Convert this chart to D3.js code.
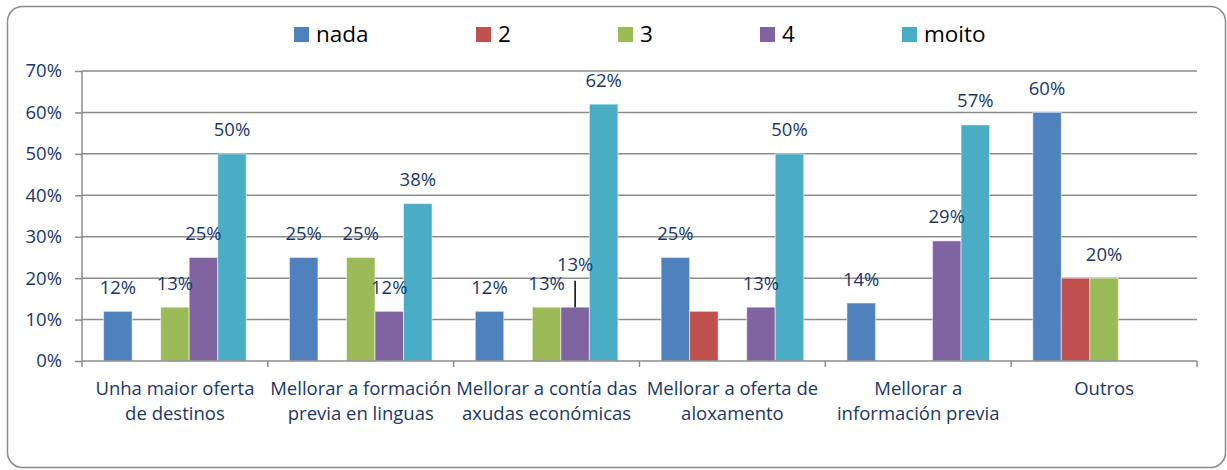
<!DOCTYPE html>
<html>
<head>
<meta charset="utf-8">
<script src="https://cdn.jsdelivr.net/npm/d3@7"></script>
<style>
  html, body { margin: 0; padding: 0; background: #fff; }
  svg { display: block; }
  text { font-family: "Open Sans", Lato, sans-serif; }
</style>
</head>
<body>
<svg id="chart" width="1227" height="470"></svg>
<script>
// Categories (two-line labels) and series
const categories = [
  ["Unha maior oferta", "de destinos"],
  ["Mellorar a formación", "previa en linguas"],
  ["Mellorar a contía das", "axudas económicas"],
  ["Mellorar a oferta de", "aloxamento"],
  ["Mellorar a", "información previa"],
  ["Outros"]
];
const seriesNames = ["nada", "2", "3", "4", "moito"];

// Percentages per series, one value per category (null = no bar)
const nada  = [12, 25, 12, 25, 14, 60];
const dous  = [null, null, null, 12, null, 20];
const tres  = [13, 25, 13, null, null, 20];
const catro = [25, 12, 13, 13, 29, null];
const moito = [50, 38, 62, 50, 57, null];

// Which series carry value labels
const seriesLabelled = [true, false, true, true, true];

const yTicks = [0, 10, 20, 30, 40, 50, 60, 70];

const colors = ["#4F81BD", "#C0504D", "#9BBB59", "#8064A2", "#4BACC6"];
const seriesValues = [nada, dous, tres, catro, moito];

const svg = d3.select("#chart");
const plot = { left: 82, right: 1197, top: 71, bottom: 361 };
const textColor = "#1B3768";
const gridColor = "#8C8C8C";
const fontSize = "18.5px";

// Outer rounded frame
svg.append("rect")
  .attr("x", 7.5).attr("y", 6.5)
  .attr("width", 1218).attr("height", 461)
  .attr("rx", 15).attr("ry", 15)
  .attr("fill", "#fff")
  .attr("stroke", "#8A8A8A")
  .attr("stroke-width", 1.5);

const x0 = d3.scaleBand()
  .domain(d3.range(categories.length))
  .range([plot.left, plot.right])
  .paddingInner(0).paddingOuter(0);

const groupPad = 21.6;
const x1 = d3.scaleBand()
  .domain(d3.range(seriesNames.length))
  .range([groupPad, x0.bandwidth() - groupPad])
  .padding(0);

const y = d3.scaleLinear().domain([0, 70]).range([plot.bottom, plot.top]);

// Horizontal gridlines
svg.append("g")
  .selectAll("line")
  .data(yTicks.filter(t => t > 0))
  .join("line")
  .attr("x1", plot.left).attr("x2", plot.right)
  .attr("y1", d => y(d)).attr("y2", d => y(d))
  .attr("stroke", gridColor).attr("stroke-width", 1.5);

// Y axis
const yAxis = d3.axisLeft(y)
  .tickValues(yTicks)
  .tickFormat(d => d + "%")
  .tickSize(7)
  .tickPadding(13);
const gy = svg.append("g")
  .attr("transform", `translate(${plot.left},0)`)
  .call(yAxis);
gy.select(".domain").attr("stroke", gridColor).attr("stroke-width", 1.5)
  .attr("d", `M0,${plot.top}V${plot.bottom}`);
gy.selectAll(".tick line").attr("stroke", gridColor).attr("stroke-width", 1.5);
gy.selectAll(".tick text")
  .attr("fill", textColor)
  .style("font-size", fontSize)
  .style("font-family", "'Open Sans', Lato, sans-serif");

// Bars
const barData = [];
seriesValues.forEach((vals, s) => {
  vals.forEach((v, c) => {
    if (v !== null) barData.push({ s, c, v });
  });
});

svg.append("g")
  .selectAll("rect")
  .data(barData)
  .join("rect")
  .attr("x", d => x0(d.c) + x1(d.s))
  .attr("width", x1.bandwidth())
  .attr("y", d => y(d.v))
  .attr("height", d => y(0) - y(d.v))
  .attr("fill", d => colors[d.s])
  .attr("stroke", "#fff")
  .attr("stroke-opacity", 0.55)
  .attr("stroke-width", 1);

// X axis (category separators)
const gx = svg.append("g").attr("transform", `translate(0,${plot.bottom})`);
gx.append("line")
  .attr("x1", plot.left).attr("x2", plot.right)
  .attr("y1", 0).attr("y2", 0)
  .attr("stroke", gridColor).attr("stroke-width", 1.5);
gx.selectAll("line.sep")
  .data(d3.range(categories.length + 1))
  .join("line")
  .attr("class", "sep")
  .attr("x1", i => i < categories.length ? x0(i) : plot.right)
  .attr("x2", i => i < categories.length ? x0(i) : plot.right)
  .attr("y1", 0).attr("y2", 6)
  .attr("stroke", gridColor).attr("stroke-width", 1.5);

// Category labels
const catLabels = svg.append("g")
  .selectAll("text")
  .data(categories)
  .join("text")
  .attr("text-anchor", "middle")
  .attr("fill", textColor)
  .style("font-size", fontSize)
  .attr("transform", (d, i) => `translate(${x0(i) + x0.bandwidth() / 2},395)`);
catLabels.selectAll("tspan")
  .data(d => d)
  .join("tspan")
  .attr("x", 0)
  .attr("dy", (d, i) => i === 0 ? 0 : 24.5)
  .text(d => d);

// Value labels (one raised with a leader line where labels would collide)
const labelLift = { s: 3, c: 2, dy: 19 };
const labelData = barData.filter(d => seriesLabelled[d.s]);
const labelG = svg.append("g");
labelData.forEach(d => {
  const cx = x0(d.c) + x1(d.s) + x1.bandwidth() / 2;
  const lifted = d.s === labelLift.s && d.c === labelLift.c;
  const base = y(d.v) - 17.5 - (lifted ? labelLift.dy : 0);
  if (lifted) {
    labelG.append("line")
      .attr("x1", cx).attr("x2", cx)
      .attr("y1", base + 10).attr("y2", y(d.v))
      .attr("stroke", "#000").attr("stroke-width", 1.5);
  }
  labelG.append("text")
    .attr("x", cx).attr("y", base)
    .attr("text-anchor", "middle")
    .attr("fill", textColor)
    .style("font-size", fontSize)
    .text(d.v + "%");
});

// Legend
const legendX = [294, 476, 618, 760, 902];
const legend = svg.append("g")
  .selectAll("g")
  .data(seriesNames)
  .join("g")
  .attr("transform", (d, i) => `translate(${legendX[i]},27)`);
legend.append("rect")
  .attr("width", 15).attr("height", 15)
  .attr("fill", (d, i) => colors[i]);
legend.append("text")
  .attr("x", 22).attr("y", 15)
  .attr("fill", "#000")
  .style("font-size", "22.5px")
  .text(d => d);
</script>
</body>
</html>
